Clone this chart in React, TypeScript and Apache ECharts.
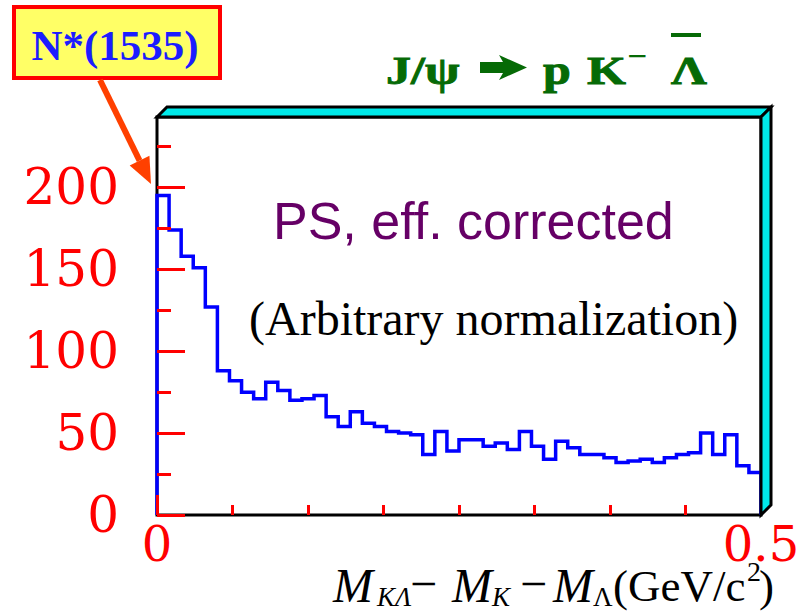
import React, { useEffect, useRef } from "react";
import * as echarts from "echarts";

// ---- data ----
const binWidth = 0.01; // GeV/c^2 per bin
const counts = [
  195, 174, 158, 151, 127, 88, 82, 75, 71, 81,
  76, 70, 71, 73, 60, 54, 63, 56, 54, 51,
  50, 49, 37, 51, 39, 46, 46, 42, 44, 40,
  51, 42, 34, 45, 41, 37, 37, 35, 32, 33,
  34, 32, 35, 37, 38, 50, 37, 49, 30, 26,
];
const yMajorTicks = [0, 50, 100, 150, 200];
const yMinorTicks = [25, 75, 125, 175, 225];
const xMajorTicks = [0, 0.5];
const xMinorTicks = [0.0625, 0.125, 0.1875, 0.25, 0.3125, 0.375, 0.4375];
const xMax = 0.5;
const yMax = 243;

const titleLabel = "J/ψ";
const boxLabel = "N*(1535)";
const psLabel = "PS, eff. corrected";
const normLabel = "(Arbitrary normalization)";

function stairs(): number[][] {
  const pts: number[][] = [[0, 0]];
  counts.forEach((c, i) => {
    pts.push([i * binWidth, c]);
    pts.push([(i + 1) * binWidth, c]);
  });
  pts.push([counts.length * binWidth, 0]);
  return pts;
}

// ---- layout ----
const G = { left: 157, top: 117, width: 604, height: 398 };
const D = 10; // 3D depth
const RED = "#ff0000";
const SERIF = '"Liberation Serif", "Times New Roman", serif';
const AXFONT = '"DejaVu Serif", serif';

function txt(text: string, x: number, y: number, size: number, opts: any = {}) {
  return {
    type: "text",
    x,
    y,
    z: 100,
    scaleX: opts.scaleX ?? 1,
    style: {
      text,
      fontFamily: opts.family ?? SERIF,
      fontSize: size,
      fontStyle: opts.italic ? "italic" : "normal",
      fontWeight: opts.bold ? "bold" : "normal",
      fill: opts.fill ?? "#000",
      stroke: opts.stroke ?? null,
      lineWidth: opts.stroke ? 0.9 : 0,
      align: opts.align ?? "left",
      verticalAlign: "middle",
    },
  };
}

export default function App() {
  const ref = useRef<HTMLDivElement>(null);

  useEffect(() => {
    if (!ref.current) return;
    const chart = echarts.init(ref.current, null, { renderer: "svg" });
    const R = G.left + G.width;
    const B = G.top + G.height;
    const green = "#066a06";

    const tickAxisX = (values: number[], len: number, labels: boolean) => ({
      type: "value",
      min: 0,
      max: xMax,
      position: "bottom",
      z: 10,
      axisLine: { show: false, onZero: false },
      axisTick: {
        show: true,
        inside: true,
        length: len,
        customValues: values,
        lineStyle: { color: RED, width: 3 },
      },
      axisLabel: labels
        ? {
            show: true,
            customValues: values,
            showMinLabel: true,
            showMaxLabel: true,
            color: RED,
            fontFamily: AXFONT,
            fontSize: 48,
            margin: 5,
            formatter: (v: number) => String(v),
          }
        : { show: false },
      splitLine: { show: false },
    });
    const tickAxisY = (values: number[], len: number, labels: boolean) => ({
      type: "value",
      min: 0,
      max: yMax,
      position: "left",
      offset: 0,
      z: 10,
      axisLine: { show: false, onZero: false },
      axisTick: {
        show: true,
        inside: true,
        length: len,
        customValues: values,
        lineStyle: { color: RED, width: 3 },
      },
      axisLabel: labels
        ? {
            show: true,
            customValues: values,
            showMinLabel: true,
            showMaxLabel: true,
            color: RED,
            fontFamily: AXFONT,
            fontSize: 50,
            margin: 38,
            formatter: (v: number) => String(v),
          }
        : { show: false },
      splitLine: { show: false },
    });

    const tip = [151, 184];
    const tail = [100, 80];
    const dx = tip[0] - tail[0];
    const dy = tip[1] - tail[1];
    const L = Math.hypot(dx, dy);
    const ux = dx / L, uy = dy / L;
    const hl = 26, hw = 11;
    const bx = tip[0] - hl * ux, by = tip[1] - hl * uy;

    chart.setOption({
      animation: false,
      backgroundColor: "#ffffff",
      grid: {
        left: G.left,
        top: G.top,
        width: G.width,
        height: G.height,
        show: true,
        borderColor: "#000",
        borderWidth: 3,
        backgroundColor: "transparent",
        containLabel: false,
        outerBoundsMode: "none",
      },
      xAxis: [tickAxisX(xMajorTicks, 20, true), tickAxisX(xMinorTicks, 10, false)],
      yAxis: [tickAxisY(yMajorTicks, 28, true), tickAxisY(yMinorTicks, 14, false)],
      series: [
        {
          type: "line",
          data: stairs(),
          xAxisIndex: 0,
          yAxisIndex: 0,
          symbol: "none",
          clip: false,
          z: 3,
          lineStyle: { color: "#0000ff", width: 3.5, join: "miter" },
        },
      ],
      graphic: [
        // 3D frame faces
        {
          type: "polygon",
          z: 90,
          shape: {
            points: [
              [G.left, G.top],
              [G.left + D, G.top - D],
              [R + D, G.top - D],
              [R, G.top],
            ],
          },
          style: { fill: "#00eaea", stroke: "#000", lineWidth: 3, lineJoin: "miter" },
        },
        {
          type: "polygon",
          z: 90,
          shape: {
            points: [
              [R, G.top],
              [R + D, G.top - D],
              [R + D, B - D],
              [R, B],
            ],
          },
          style: { fill: "#00eaea", stroke: "#000", lineWidth: 3, lineJoin: "miter" },
        },
        // N* box
        {
          type: "rect",
          z: 90,
          shape: { x: 14, y: 7, width: 206, height: 71 },
          style: { fill: "#ffff66", stroke: "#ff0000", lineWidth: 4 },
        },
        txt(boxLabel, 115, 45, 43, { bold: true, fill: "#1c1cff", align: "center" }),
        // arrow
        {
          type: "line",
          z: 90,
          shape: { x1: tail[0], y1: tail[1], x2: bx, y2: by },
          style: { stroke: "#ff4000", lineWidth: 6 },
        },
        {
          type: "polygon",
          z: 90,
          shape: {
            points: [
              [tip[0], tip[1]],
              [bx + hw * uy, by - hw * ux],
              [bx - hw * uy, by + hw * ux],
            ],
          },
          style: { fill: "#ff4000" },
        },
        // title
        txt(titleLabel, 386, 70, 41, { bold: true, fill: green, stroke: green, scaleX: 1.22 }),
        {
          type: "polygon",
          z: 100,
          shape: {
            points: [
              [480, 62],
              [503, 62],
              [499, 55],
              [527, 67.5],
              [499, 80],
              [503, 73],
              [480, 73],
            ],
          },
          style: { fill: green },
        },
        txt("p", 543, 70, 41, { bold: true, fill: green, stroke: green, scaleX: 1.22 }),
        txt("K", 587, 70, 41, { bold: true, fill: green, stroke: green, scaleX: 1.22 }),
        txt("−", 627, 56, 32, { bold: true, fill: green, scaleX: 1.1 }),
        txt("Λ", 671, 70, 41, { bold: true, fill: green, stroke: green, scaleX: 1.22 }),
        {
          type: "line",
          z: 100,
          shape: { x1: 671, y1: 35, x2: 701, y2: 35 },
          style: { stroke: green, lineWidth: 4 },
        },
        // annotations
        txt(psLabel, 273, 221, 52, { family: '"Liberation Sans", Arial, sans-serif', fill: "#660066" }),
        txt(normLabel, 249, 318, 48),
        // x axis title
        txt("M", 333, 585, 48, { italic: true }),
        txt("KΛ", 377, 597, 27, { italic: true }),
        txt("−", 410, 583, 48),
        txt("M", 452, 585, 48, { italic: true }),
        txt("K", 492, 597, 27, { italic: true }),
        txt("−", 520, 583, 48),
        txt("M", 553, 585, 48, { italic: true }),
        txt("Λ", 593, 597, 27),
        txt("(GeV/c", 613, 586, 45),
        txt("2", 747, 571, 28),
        txt(")", 759, 586, 45),
      ],
    });
    return () => chart.dispose();
  }, []);

  return (
    <div
      ref={ref}
      style={{ position: "fixed", left: 0, top: 0, width: 806, height: 613, background: "#fff" }}
    />
  );
}
